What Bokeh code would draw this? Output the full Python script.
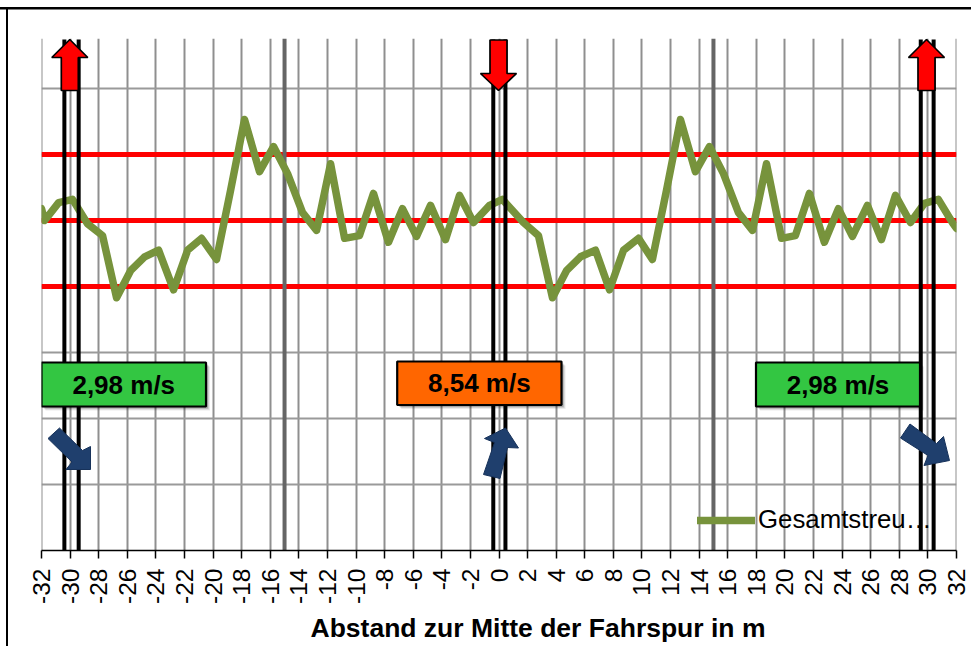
from math import pi
from bokeh.plotting import figure
from bokeh.models import FixedTicker, Span, Legend, LegendItem, Title
from bokeh.core.properties import value
from bokeh.embed import file_html
from bokeh.resources import INLINE

# --- data ---
distance_m = [-32.0, -31.78, -30.80, -29.83, -28.78, -27.73, -26.75, -25.77, -24.79, -23.81, -22.76, -21.78,
              -20.80, -19.76, -18.78, -17.80, -16.75, -15.77, -14.79, -13.74, -12.76, -11.78, -10.80, -9.76,
              -8.78, -7.73, -6.75, -5.77, -4.79, -3.74, -2.76, -1.78, -0.66, 0.24, 1.71, 2.76, 3.74, 4.72,
              5.70, 6.75, 7.73, 8.71, 9.76, 10.73, 11.71, 12.69, 13.74, 14.72, 15.70, 16.75, 17.73, 18.71,
              19.76, 20.73, 21.71, 22.76, 23.74, 24.72, 25.77, 26.75, 27.73, 28.78, 29.76, 30.73, 31.71, 32.0]
gesamtstreu = [5.18, 5.00, 5.27, 5.32, 4.95, 4.77, 3.83, 4.24, 4.45, 4.55, 3.95, 4.55,
               4.73, 4.41, 5.45, 6.53, 5.74, 6.12, 5.71, 5.12, 4.85, 5.86, 4.73, 4.77,
               5.41, 4.67, 5.18, 4.76, 5.23, 4.71, 5.38, 4.97, 5.23, 5.32, 4.97, 4.77, 3.83, 4.24,
               4.45, 4.55, 3.95, 4.55, 4.73, 4.41, 5.45, 6.53, 5.74, 6.12, 5.71, 5.12, 4.85, 5.86,
               4.73, 4.77, 5.41, 4.67, 5.18, 4.76, 5.23, 4.71, 5.38, 4.97, 5.26, 5.32, 4.97, 4.88]
x_ticks = list(range(-32, 33, 2))
x_tick_labels = {t: str(t) for t in x_ticks}
y_grid = [1, 2, 3, 4, 5, 6, 7]
red_levels = [4, 5, 6]
grey_verticals = [-15, 15]
black_verticals = [-30.4, -29.4, -0.4, 0.45, 29.5, 30.4]
series_name = "Gesamtstreu…"
axis_title = "Abstand zur Mitte der Fahrspur in m"

# --- annotation geometry, in page pixels of the picture ---
def X(px): return (px - 498.5) / 14.297
def Y(py): return (550 - py) / 66

def poly(points, **kw):
    p.patch([X(a) for a, _ in points], [Y(b) for _, b in points], **kw)

p = figure(width=971, height=646, output_backend="svg", toolbar_location=None,
           x_range=(-32, 32), y_range=(0, (550 - 38) / 66),
           min_border_left=41, min_border_right=15, min_border_top=38, min_border_bottom=96,
           background_fill_color="white", border_fill_color=None)
p.outline_line_color = None
p.yaxis.visible = False
# outer frame lines of the picture (top and left), behind the transparent canvas border
p.styles = {"background": ("linear-gradient(#000,#000) 0 7px/100% 2.5px no-repeat,"
                           "linear-gradient(#000,#000) 6px 8px/2px 100% no-repeat, #fff")}

ax = p.xaxis[0]
ax.ticker = FixedTicker(ticks=x_ticks)
ax.major_label_overrides = x_tick_labels
ax.major_label_orientation = pi / 2
ax.major_label_standoff = 10
ax.major_label_text_font = "Liberation Sans"
ax.major_label_text_font_size = "24.5px"
ax.major_label_text_color = "black"
ax.major_tick_in = 0
ax.major_tick_out = 8
ax.minor_tick_line_color = None
ax.major_tick_line_color = "black"
ax.major_tick_line_width = 1.5
ax.axis_line_color = "black"
ax.axis_line_width = 1.5

p.add_layout(Title(text=axis_title, align="left", offset=269, standoff=8, text_line_height=1.6,
                   text_font="Liberation Sans", text_font_style="bold", text_font_size="26.5px",
                   text_color="black"), "below")

p.xgrid.ticker = FixedTicker(ticks=x_ticks)
p.ygrid.ticker = FixedTicker(ticks=y_grid)
p.xgrid.grid_line_color = "#8f8f8f"
p.xgrid.grid_line_width = 2
p.ygrid.grid_line_color = "#9a9a9a"
p.ygrid.grid_line_width = 2

# edge gridlines
for e in (-32, 32):
    p.add_layout(Span(location=e, dimension="height", line_color="#8f8f8f", line_width=2, level="underlay"))

for lv in red_levels:
    p.add_layout(Span(location=lv, dimension="width", line_color="#ff0000", line_width=5, level="underlay"))
for gv in grey_verticals:
    p.add_layout(Span(location=gv, dimension="height", line_color="#666666", line_width=4, level="underlay"))

line = p.line(distance_m, gesamtstreu, line_color="#77933c", line_width=7.5, line_join="round", line_cap="round")

for bv in black_verticals:
    p.segment(x0=[bv], y0=[0], x1=[bv], y1=[(550 - 39) / 66], line_color="black", line_width=4)

# red arrows
def red_up(cx):
    poly([(cx, 39), (cx + 18, 57), (cx + 8.5, 57), (cx + 8.5, 90), (cx - 8.5, 90), (cx - 8.5, 57), (cx - 18, 57)],
         fill_color="#ff0000", line_color="black", line_width=1.7)
red_up(69.3)
red_up(926)
poly([(489.5, 39.5), (506.5, 39.5), (506.5, 73), (516, 73), (498, 90), (480, 73), (489.5, 73)],
     fill_color="#ff0000", line_color="black", line_width=1.7)

# value boxes
def box(x0, x1, y0, y1, color, txt):
    for off, a in ((4, 0.08), (3, 0.12), (2, 0.18)):
        p.quad(left=X(x0 + off), right=X(x1 + off), top=Y(y0 + off), bottom=Y(y1 + off),
               fill_color="black", fill_alpha=a, line_color=None)
    p.quad(left=X(x0), right=X(x1), top=Y(y0), bottom=Y(y1), fill_color=color, line_color="black", line_width=2.2)
    p.text(x=[X((x0 + x1) / 2)], y=[Y((y0 + y1) / 2)], text=[txt], text_align="center", text_baseline="middle",
           text_font=value("Liberation Sans"), text_font_style="bold", text_font_size="26px", text_color="black")

box(41, 205.5, 362, 406, "#33c642", "2,98 m/s")
box(396.7, 561, 361, 404.5, "#ff6600", "8,54 m/s")
box(755.5, 919.5, 362, 406, "#33c642", "2,98 m/s")

# blue arrows
blue = dict(fill_color="#1f3f6d", line_color="#17325a", line_width=1)
poly([(47.5, 438), (59, 427.5), (82, 450), (90, 446), (90, 469), (65.5, 469), (71.5, 461.5)], **blue)
poly([(483, 474), (499.5, 478), (507, 447), (518, 447.5), (505, 427.5), (484, 438), (494, 442)], **blue)
poly([(900, 437.5), (909.5, 423.5), (936, 443), (943, 436), (949, 460), (923.5, 465), (927.5, 455)], **blue)

legend = Legend(items=[LegendItem(label=series_name, renderers=[line])],
                location=(656, 16), orientation="horizontal", border_line_color=None,
                background_fill_alpha=0, padding=0, margin=0, spacing=0,
                glyph_width=58, glyph_height=26, label_standoff=3,
                label_text_font="Liberation Sans", label_text_font_size="25.8px", label_text_color="black")
p.add_layout(legend)

open("out.html", "w").write(file_html(p, INLINE))
